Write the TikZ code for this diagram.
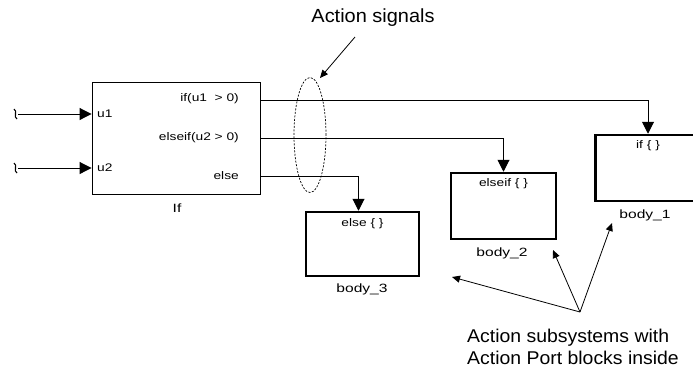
\documentclass[tikz,border=0pt]{standalone}
\usepackage{fontspec}
\setmainfont{Liberation Sans}
\newfontfamily\portfont[FakeStretch=1.25]{Liberation Sans}
\newfontfamily\bodyfont[FakeStretch=1.3]{Liberation Sans}
\newfontfamily\notefont[FakeStretch=1.05]{Liberation Sans}
\usetikzlibrary{arrows.meta,shapes.geometric}
\begin{document}
\begin{tikzpicture}[x=1pt,y=-1pt,
  ifbox/.style={draw,line width=0.9pt,inner sep=0pt,minimum width=168pt,minimum height=112pt},
  bodybox/.style={draw,line width=2.5pt,inner sep=0pt,minimum width=105pt,minimum height=66pt},
  portlbl/.style={inner sep=0pt,font=\portfont\fontsize{11}{13}\selectfont},
  bodylbl/.style={inner sep=0pt,font=\bodyfont\fontsize{12}{14}\selectfont},
  notelbl/.style={inner sep=0pt,font=\notefont\fontsize{19}{23}\selectfont},
  sig/.style={line width=1pt,-{Triangle[length=12pt,width=12pt]}},
  note/.style={line width=0.8pt,-{Triangle[length=8pt,width=7pt]}},
  wig/.style={line width=1.1pt}
]
\useasboundingbox (0,0) rectangle (693,368);

% If block
\node[ifbox] (ifblk) at (176,138) {};
\node[portlbl,anchor=west] (pu1) at (97,114) {u1};
\node[portlbl,anchor=west] (pu2) at (97,168) {u2};
\node[portlbl,anchor=east] (py1) at (239,99) {if(u1 \ > 0)};
\node[portlbl,anchor=east] (py2) at (239,138) {elseif(u2 > 0)};
\node[portlbl,anchor=east] (py3) at (239,176) {else};
\node[bodylbl] (iflbl) at (177,208) {If};

% body blocks
\node[bodybox,minimum width=105pt] (body1) at (648,168) {};
\node[bodybox,minimum width=105pt] (body2) at (503.5,206) {};
\node[bodybox,minimum width=113pt,minimum height=64pt] (body3) at (362.5,244) {};
\node[portlbl] (t1) at (648,146) {if \{ \}};
\node[portlbl] (t2) at (503.5,184) {elseif \{ \}};
\node[portlbl] (t3) at (362.5,224) {else \{ \}};
\node[bodylbl] (b1) at (645,215) {body\_1};
\node[bodylbl] (b2) at (502,253) {body\_2};
\node[bodylbl] (b3) at (362,289) {body\_3};

% inputs
\coordinate (w1) at (18,114);
\coordinate (w2) at (18,168);
\draw[wig] (14,109) .. controls (18,111) and (13,117) .. (17,119);
\draw[wig] (14,163) .. controls (18,165) and (13,171) .. (17,173);
\draw[sig] (w1) -- (ifblk.west |- w1);
\draw[sig] (w2) -- (ifblk.west |- w2);

% outputs
\coordinate (o1) at (260,100);
\coordinate (o2) at (260,138);
\coordinate (o3) at (260,176);
\draw[sig] (o1) -| (body1.north);
\draw[sig] (o2) -| (body2.north);
\draw[sig] (o3) -| ([xshift=-4pt]body3.north);

% dashed ellipse
\node[draw,ellipse,line width=0.7pt,dash pattern=on 2pt off 1.5pt,minimum width=32pt,minimum height=115pt,inner sep=0pt] (ell) at (310,135) {};

% annotations
\node[notelbl] (sigtxt) at (373,18) {Action signals};
\coordinate (s0) at (355,37);
\coordinate (s1) at (320,78);
\draw[note] (s0) -- (s1);

\node[notelbl,anchor=west,align=left,font=\notefont\fontsize{18.5}{22}\selectfont] (subtxt) at (467,346.5) {Action subsystems with\\Action Port blocks inside};
\coordinate (hub) at (580,312);
\coordinate (a1) at (452,277);
\coordinate (a2) at (553,250);
\coordinate (a3) at (612,223);
\draw[note] (hub) -- (a1);
\draw[note] (hub) -- (a2);
\draw[note] (hub) -- (a3);
\end{tikzpicture}
\end{document}
